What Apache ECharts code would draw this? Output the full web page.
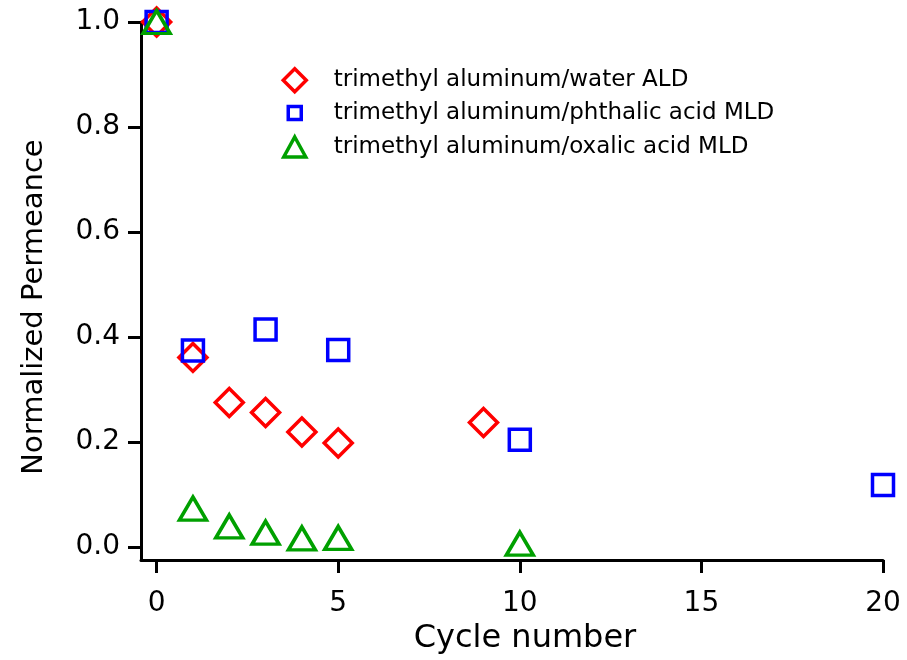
<!DOCTYPE html>
<html>
<head>
<meta charset="utf-8">
<script src="https://cdn.jsdelivr.net/npm/echarts@6/dist/echarts.min.js"></script>
<style>
  html, body { margin: 0; padding: 0; background: #fff; }
  #chart { width: 907px; height: 660px; }
</style>
</head>
<body>
<div id="chart"></div>
<script>
// Cycle numbers and normalized permeance for each coating process
const waterCycles = [0, 1, 2, 3, 4, 5, 9];
const waterPerm = [1.0, 0.361, 0.275, 0.256, 0.219, 0.198, 0.237];

const phthalicCycles = [0, 1, 3, 5, 10, 20];
const phthalicPerm = [1.0, 0.374, 0.414, 0.375, 0.204, 0.118];

const oxalicCycles = [0, 1, 2, 3, 4, 5, 10];
const oxalicPerm = [1.0, 0.073, 0.039, 0.027, 0.016, 0.017, 0.006];

const seriesNames = [
  'trimethyl aluminum/water ALD',
  'trimethyl aluminum/phthalic acid MLD',
  'trimethyl aluminum/oxalic acid MLD'
];

const xTicks = [0, 5, 10, 15, 20];
const yTicks = [0, 0.2, 0.4, 0.6, 0.8, 1.0];

const pairs = (xs, ys) => xs.map((x, i) => [x, ys[i]]);

const FONT = 'DejaVu Sans';
const INK = '#000';
const STROKE = 3.5;

const chart = echarts.init(document.getElementById('chart'), null, { renderer: 'canvas' });

function hollow(color) {
  return { color: 'rgba(0,0,0,0)', borderColor: color, borderWidth: STROKE, opacity: 1 };
}

// One legend block per series so each key symbol keeps its own size.
const ICON_X = 288;   // centre of the key symbols
const TEXT_X = 327;   // left edge of the key text
function legendRow(name, icon, w, h, centerY) {
  return {
    orient: 'vertical',
    left: ICON_X - w / 2,
    top: centerY - 12,
    itemWidth: w,
    itemHeight: h,
    symbolKeepAspect: true,
    textStyle: {
      fontFamily: FONT, fontSize: 23, lineHeight: 24, color: INK,
      padding: [0, 0, 0, TEXT_X - ICON_X - w / 2 - 5]
    },
    itemStyle: { borderWidth: STROKE },
    data: [{ name: name, icon: icon }]
  };
}

chart.setOption({
  backgroundColor: '#fff',
  animation: false,
  grid: { left: 141, top: 22, width: 742, height: 538, containLabel: false },
  legend: [
    legendRow(seriesNames[0], 'diamond', 23, 23, 74),
    legendRow(seriesNames[1], 'rect', 13, 13, 108),
    legendRow(seriesNames[2], 'triangle', 22, 20, 142)
  ],
  xAxis: {
    type: 'value',
    min: -0.43,
    max: 20,
    name: 'Cycle number',
    nameLocation: 'middle',
    nameGap: 59,
    nameTextStyle: { fontFamily: FONT, fontSize: 32, color: INK, padding: [0, 0, 0, 26] },
    axisLine: { show: true, onZero: false, lineStyle: { color: '#000', width: 3 } },
    axisTick: { show: true, inside: false, length: 13, customValues: xTicks, lineStyle: { color: '#000', width: 3 } },
    axisLabel: { customValues: xTicks, fontFamily: FONT, fontSize: 28, color: INK, margin: 30 },
    splitLine: { show: false }
  },
  yAxis: {
    type: 'value',
    min: -0.025,
    max: 1.0,
    name: 'Normalized Permeance',
    nameLocation: 'middle',
    nameGap: 92,
    nameTextStyle: { fontFamily: FONT, fontSize: 29, color: INK, padding: [0, 32, 0, 0] },
    axisLine: { show: true, onZero: false, lineStyle: { color: '#000', width: 3 } },
    axisTick: { show: true, inside: false, length: 13, customValues: yTicks, lineStyle: { color: '#000', width: 3 } },
    axisLabel: {
      customValues: yTicks,
      fontFamily: FONT, fontSize: 28, color: INK, margin: 21,
      formatter: v => v.toFixed(1)
    },
    splitLine: { show: false }
  },
  series: [
    {
      name: seriesNames[0],
      type: 'scatter',
      symbol: 'diamond',
      symbolSize: 28,
      itemStyle: hollow('#ff0000'),
      data: pairs(waterCycles, waterPerm)
    },
    {
      name: seriesNames[1],
      type: 'scatter',
      symbol: 'rect',
      symbolSize: 21,
      itemStyle: hollow('#0000ff'),
      data: pairs(phthalicCycles, phthalicPerm)
    },
    {
      name: seriesNames[2],
      type: 'scatter',
      symbol: 'triangle',
      symbolSize: [27, 23],
      itemStyle: hollow('#00a000'),
      data: pairs(oxalicCycles, oxalicPerm)
    }
  ]
});
</script>
</body>
</html>
